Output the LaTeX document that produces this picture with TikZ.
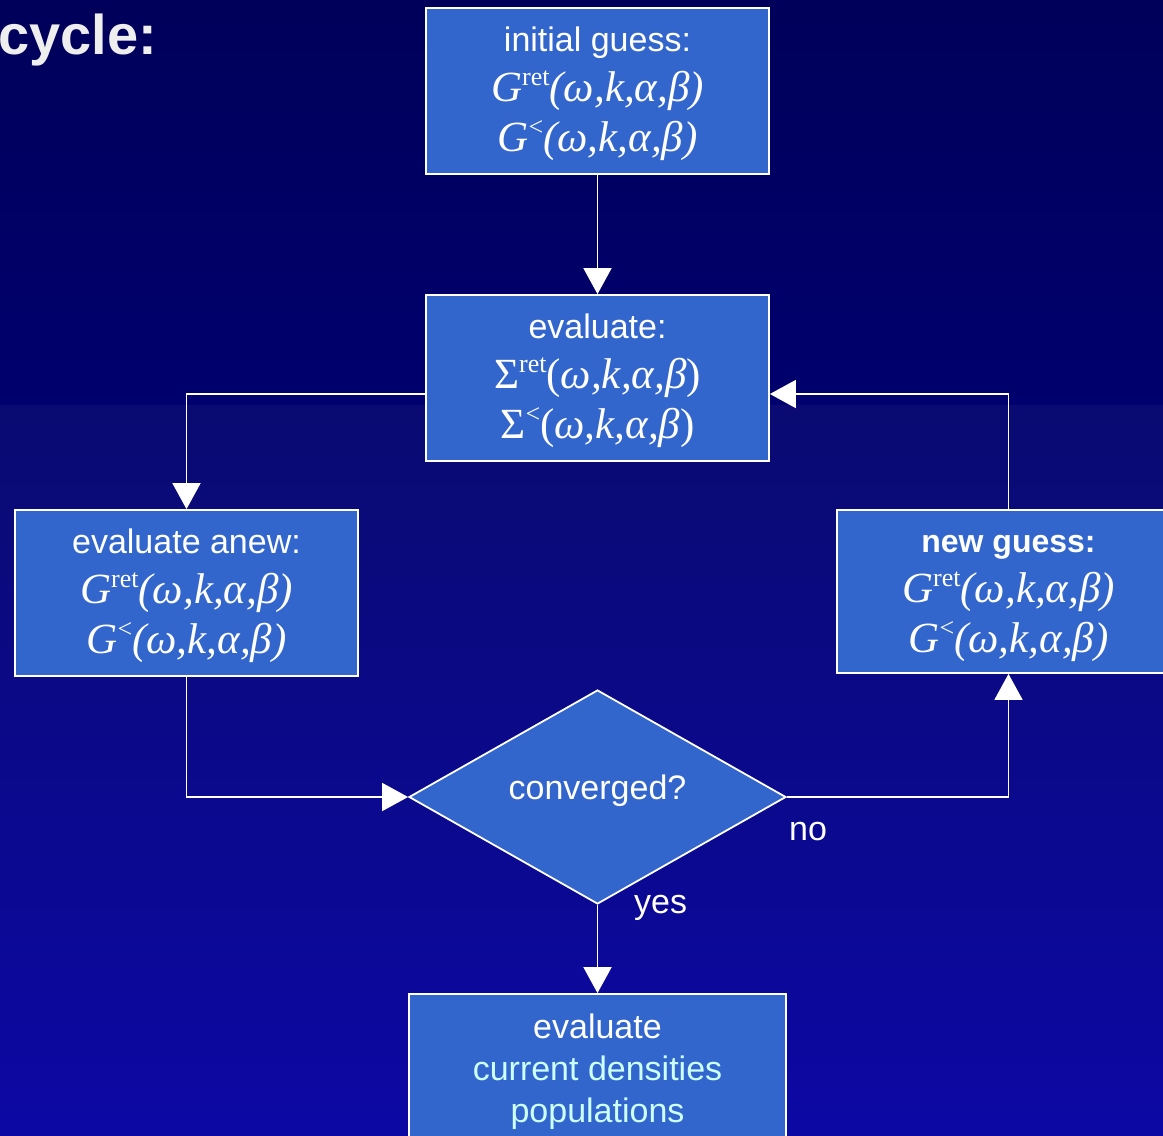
\documentclass[tikz,border=0pt]{standalone}
\usepackage{fontspec}
\setmainfont{Liberation Serif}
\setsansfont{Liberation Sans}
\usetikzlibrary{arrows.meta,shapes.geometric,calc}
\definecolor{boxblue}{HTML}{3366CC}
\definecolor{topA}{HTML}{00005A}
\definecolor{topB}{HTML}{00006E}
\definecolor{botA}{HTML}{0A0A72}
\definecolor{botB}{HTML}{0C08A4}
\definecolor{lightcyan}{HTML}{CCFFFF}
\definecolor{titlegray}{HTML}{EEEEEE}
\newcommand\supx[1]{\raisebox{16pt}{\fontsize{26}{26}\selectfont\upshape #1}}
\newcommand\Gfun[1]{{\rmfamily\fontsize{43}{50}\selectfont\itshape G\supx{#1}(ω,k,α,β)}}
\newcommand\Sfun[1]{{\rmfamily\fontsize{43}{50}\selectfont Σ\supx{#1}(\textit{ω,k,α,β})}}
\newcommand\topstrut{\rule{0pt}{31pt}}
\tikzset{
  flowbox/.style={draw=white, line width=1.8pt, fill=boxblue, text=white,
    minimum width=343pt, minimum height=166pt, inner sep=0pt, align=center,
    font=\sffamily\fontsize{34}{50}\selectfont},
  diam/.style={diamond, draw=white, line width=1.8pt, fill=boxblue, text=white,
    minimum width=377pt, minimum height=214pt, aspect=1.76, inner sep=0pt,
    text height=24pt, text depth=19pt, font=\sffamily\fontsize{34}{40}\selectfont},
  arr/.style={draw=white, line width=1.8pt, -{Triangle[length=26pt,width=28pt]}},
  lbl/.style={text=white, inner sep=0pt, anchor=base west, font=\sffamily\fontsize{34}{40}\selectfont}
}
\begin{document}
\begin{tikzpicture}[x=1pt,y=-1pt]
\useasboundingbox (0,0) rectangle (1163,1136);
\clip (0,0) rectangle (1163,1136);
\shade[top color=topA, bottom color=topB] (0,0) rectangle (1163,405);
\shade[top color=botA, bottom color=botB] (0,405) rectangle (1163,1136);

\node[text=titlegray, inner sep=0pt, anchor=base west,
  font=\sffamily\bfseries\fontsize{56}{60}\selectfont] (title) at (-2,54) {cycle:};

\node[flowbox] (init) at (597.5,91) {\topstrut initial guess:\\\Gfun{ret}\\\Gfun{<}};
\node[flowbox] (eval) at (597.5,378) {\topstrut evaluate:\\\Sfun{ret}\\\Sfun{<}};
\node[flowbox] (anew) at (186.5,593) {\topstrut evaluate anew:\\\Gfun{ret}\\\Gfun{<}};
\node[flowbox, minimum height=163pt] (newg) at (1008.5,591.5) {\topstrut{\bfseries\fontsize{32}{50}\selectfont new guess:}\\\Gfun{ret}\\\Gfun{<}};
\node[diam] (conv) at (597.5,797) {converged?};
\node[flowbox, minimum width=377pt, font=\sffamily\fontsize{34}{42}\selectfont] (final) at (597.5,1077)
  {evaluate\\{\color{lightcyan}current densities}\\{\color{lightcyan}populations}\rule[-17pt]{0pt}{0pt}};

\node[lbl] (no) at (789,840) {no};
\node[lbl] (yes) at (634,913) {yes};

\draw[arr] (init.south) -- (eval.north);
\draw[arr] ([yshift=-16pt]eval.west) -| (anew.north);
\draw[arr] (anew.south) |- (conv.west);
\draw[arr] (conv.east) -| (newg.south);
\draw[arr] (newg.north) |- ([yshift=-16pt]eval.east);
\draw[arr] (conv.south) -- (final.north);
\end{tikzpicture}
\end{document}
